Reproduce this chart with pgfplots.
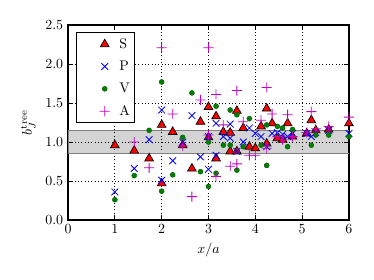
\documentclass[border=0pt]{standalone}
\usepackage{pgfplots}
\pgfplotsset{compat=1.18}
\definecolor{mplred}{rgb}{1,0,0}
\definecolor{mplblue}{rgb}{0,0,1}
\definecolor{mplgreen}{rgb}{0,0.5,0}
\definecolor{mplgreenedge}{rgb}{0,0.35,0}
\definecolor{plusmag}{RGB}{191,0,191}
\definecolor{bandedge}{rgb}{0.5,0.5,0.5}
\pgfdeclareplotmark{fplus}{%
  \pgfpathrectangle{\pgfqpoint{-\pgfplotmarksize}{-0.3pt}}{\pgfqpoint{2\pgfplotmarksize}{0.6pt}}%
  \pgfpathrectangle{\pgfqpoint{-0.3pt}{-\pgfplotmarksize}}{\pgfqpoint{0.6pt}{2\pgfplotmarksize}}%
  \pgfusepathqfill}
\pgfplotsset{every axis plot/.append style={legend image code/.code={%
  \path[draw=none,fill=none] (-10.5bp,0cm) -- (0.6cm,0cm);
  \path[##1] plot[only marks] coordinates {(0.3cm,0cm)};}}}
\begin{document}
\begin{tikzpicture}
\begin{axis}[
  scale only axis, width=200.7bp, height=139.3bp,
  xmin=0, xmax=6, ymin=0, ymax=2.5,
  xtick={0,1,2,3,4,5,6}, ytick={0,0.5,1,1.5,2,2.5},
  yticklabel style={/pgf/number format/.cd, fixed, fixed zerofill, precision=1},
  grid=major, major grid style={dotted, black, line width=0.5pt},
  tick align=inside, major tick length=3.5bp, tick style={black, line width=0.5pt},
  axis line style={line width=0.8pt},
  xlabel={$x/a$}, ylabel={$b_J^{\mathrm{tree}}$},
  legend style={at={(0.028,0.964)}, anchor=north west, line width=0.8pt,
    inner xsep=1.2bp, inner ysep=2bp, row sep=3.6bp, cells={anchor=west}},
  legend cell align=left,
]
\addplot[fill=black, fill opacity=0.17, draw=bandedge, line width=0.6pt, forget plot]
  coordinates {(0,0.85) (6,0.85) (6,1.15) (0,1.15)} -- cycle;

\addplot[only marks, mark=triangle*, mark size=3.6pt, fill=mplred, draw=black, line width=0.5pt]
coordinates {
(1.0,0.96) (1.414,0.89) (1.732,0.79) (2.0,0.47) (2.0,1.22) (2.236,1.13)
(2.449,0.96) (2.646,0.66) (2.828,1.26) (3.0,1.45) (3.0,1.06) (3.162,1.33)
(3.162,0.79) (3.317,1.13) (3.464,1.12) (3.464,0.88) (3.606,1.40) (3.606,0.88)
(3.742,1.18) (3.873,0.94) (4.0,0.92) (4.123,1.20) (4.243,1.43) (4.243,0.98)
(4.359,1.24) (4.472,1.05) (4.583,1.03) (4.69,1.24) (4.796,1.07) (5.099,1.11)
(5.196,1.28) (5.292,1.15) (5.568,1.16) (6.0,1.24)
};
\addlegendentry{S}

\addplot[only marks, mark=x, mark size=3.4pt, mplblue, line width=0.6pt]
coordinates {
(1.0,0.36) (1.414,0.66) (1.732,1.03) (2.0,1.41) (2.0,0.51) (2.236,0.76)
(2.449,1.00) (2.646,1.34) (2.828,0.81) (3.0,0.65) (3.0,1.07) (3.162,1.24)
(3.162,0.83) (3.317,1.07) (3.464,1.23) (3.464,1.05) (3.606,0.88) (3.742,1.00)
(3.873,1.18) (4.0,1.11) (4.123,1.07) (4.243,0.94) (4.359,1.11) (4.472,1.12)
(4.583,1.10) (4.69,1.07) (4.796,1.11) (5.099,1.11) (5.196,1.07) (5.292,1.12)
(5.568,1.15) (6.0,1.11)
};
\addlegendentry{P}

\addplot[only marks, mark=*, mark size=1.8pt, fill=mplgreen, draw=mplgreenedge, line width=0.3pt]
coordinates {
(1.0,0.26) (1.414,0.57) (1.732,1.15) (2.0,1.77) (2.0,0.37) (2.236,0.58)
(2.449,1.06) (2.646,1.63) (2.828,0.62) (3.0,0.43) (3.0,1.00) (3.162,1.46)
(3.162,0.60) (3.317,0.96) (3.464,1.41) (3.464,0.96) (3.606,1.35) (3.606,0.64)
(3.742,0.94) (3.873,1.30) (4.123,0.96) (4.243,1.22) (4.243,0.70) (4.472,1.20)
(4.583,1.18) (4.69,0.94) (4.796,1.16) (5.196,0.96) (5.292,1.09) (5.568,1.09)
(6.0,1.07)
};
\addlegendentry{V}

\addplot[only marks, mark=fplus, mark size=3.6pt, fill=plusmag, draw=plusmag, color=plusmag]
coordinates {
(1.414,1.00) (1.732,0.67) (2.0,2.21) (2.236,1.36) (2.449,0.95) (2.646,0.30)
(2.828,1.54) (3.0,2.21) (3.0,1.09) (3.162,1.61) (3.162,0.56) (3.317,1.22)
(3.464,0.69) (3.606,1.66) (3.606,0.72) (3.742,1.26) (3.873,0.83) (4.0,0.83)
(4.123,1.28) (4.243,1.70) (4.243,0.92) (4.359,1.36) (4.472,1.07) (4.583,1.03)
(4.69,1.35) (4.796,1.07) (5.099,1.12) (5.196,1.39) (5.292,1.17) (5.568,1.20)
(6.0,1.32)
};
\addlegendentry{A}
\end{axis}
\pgfresetboundingbox
\path[use as bounding box] (-48.6bp,-42.8bp) rectangle (218.6bp,157.2bp);
\end{tikzpicture}
\end{document}
